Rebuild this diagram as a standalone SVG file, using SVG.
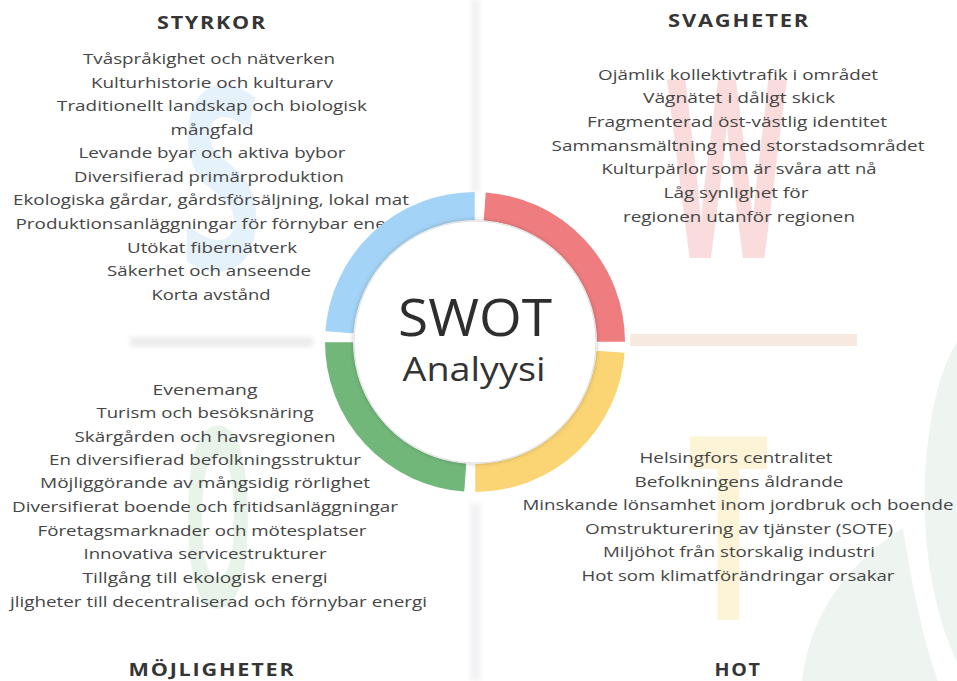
<svg xmlns="http://www.w3.org/2000/svg" width="957" height="681" viewBox="0 0 957 681">
<defs>
<style>
.h{font-family:"Open Sans","Liberation Sans",sans-serif;font-size:18px;font-weight:700;fill:#353535;text-anchor:middle;letter-spacing:1.5px}
.t{font-family:"Open Sans","Liberation Sans",sans-serif;font-size:15px;fill:#464646;text-anchor:middle}
.wm{font-family:"Open Sans","Liberation Sans",sans-serif;font-weight:700}
.arc{fill:none;stroke-width:28}
</style>
<filter id="blur2" x="-20%" y="-200%" width="140%" height="500%"><feGaussianBlur stdDeviation="2"/></filter>
<filter id="sh" x="-20%" y="-20%" width="140%" height="140%"><feDropShadow dx="0" dy="0" stdDeviation="2.5" flood-color="#000" flood-opacity="0.25"/></filter>
</defs>
<rect width="957" height="681" fill="#ffffff"/>
<g id="leaves" fill="#eef5f0">
<path d="M957,342 C920,400 908,560 957,662 Z"/>
<path d="M802,681 C810,612 850,562 903,528 C913,592 924,642 938,681 Z"/>
</g>
<g id="dividers">
<rect x="471" y="0" width="9" height="192" fill="#f2f2f2" filter="url(#blur2)"/>
<rect x="470" y="503" width="11" height="178" fill="#f3f3f5" filter="url(#blur2)"/>
<rect x="130" y="337" width="183" height="10" fill="#ededed" filter="url(#blur2)"/>
<rect x="630" y="334" width="227" height="12" fill="#f8e9e0"/>
</g>
<g id="watermarks">
<text class="wm" x="180" y="270" font-size="255" textLength="82" lengthAdjust="spacingAndGlyphs" fill="#e6f2fb">S</text>
<text class="wm" x="667" y="258" font-size="249" textLength="120" lengthAdjust="spacingAndGlyphs" fill="#fadcdc">W</text>
<text class="wm" x="183" y="607" font-size="250" textLength="70" lengthAdjust="spacingAndGlyphs" fill="#e8f4ea">O</text>
<text class="wm" x="687" y="620" font-size="256" textLength="83" lengthAdjust="spacingAndGlyphs" fill="#fdf3d6">T</text>
</g>
<g id="styrkor">
<text class="h" x="212" y="29" textLength="110" lengthAdjust="spacingAndGlyphs">STYRKOR</text>
<text class="t" x="209" y="64" textLength="252" lengthAdjust="spacingAndGlyphs">Tvåspråkighet och nätverken</text>
<text class="t" x="212" y="88" textLength="242" lengthAdjust="spacingAndGlyphs">Kulturhistorie och kulturarv</text>
<text class="t" x="212" y="111" textLength="310" lengthAdjust="spacingAndGlyphs">Traditionellt landskap och biologisk</text>
<text class="t" x="212" y="135" textLength="83" lengthAdjust="spacingAndGlyphs">mångfald</text>
<text class="t" x="212" y="158" textLength="267" lengthAdjust="spacingAndGlyphs">Levande byar och aktiva bybor</text>
<text class="t" x="209" y="182" textLength="270" lengthAdjust="spacingAndGlyphs">Diversifierad primärproduktion</text>
<text class="t" x="211" y="205" textLength="396" lengthAdjust="spacingAndGlyphs">Ekologiska gårdar, gårdsförsäljning, lokal mat</text>
<text class="t" x="212" y="229" textLength="393" lengthAdjust="spacingAndGlyphs">Produktionsanläggningar för förnybar energi</text>
<text class="t" x="212" y="253" textLength="170" lengthAdjust="spacingAndGlyphs">Utökat fibernätverk</text>
<text class="t" x="209" y="276" textLength="204" lengthAdjust="spacingAndGlyphs">Säkerhet och anseende</text>
<text class="t" x="211" y="300" textLength="119" lengthAdjust="spacingAndGlyphs">Korta avstånd</text>
</g>
<g id="svagheter">
<text class="h" x="739" y="27" textLength="142" lengthAdjust="spacingAndGlyphs">SVAGHETER</text>
<text class="t" x="738" y="80" textLength="280" lengthAdjust="spacingAndGlyphs">Ojämlik kollektivtrafik i området</text>
<text class="t" x="739" y="103" textLength="192" lengthAdjust="spacingAndGlyphs">Vägnätet i dåligt skick</text>
<text class="t" x="737" y="127" textLength="300" lengthAdjust="spacingAndGlyphs">Fragmenterad öst-västlig identitet</text>
<text class="t" x="738" y="151" textLength="373" lengthAdjust="spacingAndGlyphs">Sammansmältning med storstadsområdet</text>
<text class="t" x="739" y="174" textLength="275" lengthAdjust="spacingAndGlyphs">Kulturpärlor som är svåra att nå</text>
<text class="t" x="736" y="198" textLength="145" lengthAdjust="spacingAndGlyphs">Låg synlighet för</text>
<text class="t" x="739" y="222" textLength="232" lengthAdjust="spacingAndGlyphs">regionen utanför regionen</text>
</g>
<g id="mojligheter">
<text class="h" x="212" y="676" textLength="167" lengthAdjust="spacingAndGlyphs">MÖJLIGHETER</text>
<text class="t" x="205" y="395" textLength="105" lengthAdjust="spacingAndGlyphs">Evenemang</text>
<text class="t" x="205" y="418" textLength="217" lengthAdjust="spacingAndGlyphs">Turism och besöksnäring</text>
<text class="t" x="205" y="442" textLength="261" lengthAdjust="spacingAndGlyphs">Skärgården och havsregionen</text>
<text class="t" x="205" y="465" textLength="312" lengthAdjust="spacingAndGlyphs">En diversifierad befolkningsstruktur</text>
<text class="t" x="205" y="488" textLength="330" lengthAdjust="spacingAndGlyphs">Möjliggörande av mångsidig rörlighet</text>
<text class="t" x="205" y="512" textLength="386" lengthAdjust="spacingAndGlyphs">Diversifierat boende och fritidsanläggningar</text>
<text class="t" x="202" y="536" textLength="329" lengthAdjust="spacingAndGlyphs">Företagsmarknader och mötesplatser</text>
<text class="t" x="205" y="559" textLength="243" lengthAdjust="spacingAndGlyphs">Innovativa servicestrukturer</text>
<text class="t" x="205" y="583" textLength="245" lengthAdjust="spacingAndGlyphs">Tillgång till ekologisk energi</text>
<text class="t" x="10" y="607" textLength="417" lengthAdjust="spacingAndGlyphs" style="text-anchor:start">jligheter till decentraliserad och förnybar energi</text>
</g>
<g id="hot">
<text class="h" x="738" y="676" textLength="47" lengthAdjust="spacingAndGlyphs">HOT</text>
<text class="t" x="736" y="463" textLength="193" lengthAdjust="spacingAndGlyphs">Helsingfors centralitet</text>
<text class="t" x="739" y="487" textLength="209" lengthAdjust="spacingAndGlyphs">Befolkningens åldrande</text>
<text class="t" x="738" y="510" textLength="431" lengthAdjust="spacingAndGlyphs">Minskande lönsamhet inom jordbruk och boende</text>
<text class="t" x="739" y="534" textLength="308" lengthAdjust="spacingAndGlyphs">Omstrukturering av tjänster (SOTE)</text>
<text class="t" x="739" y="557" textLength="272" lengthAdjust="spacingAndGlyphs">Miljöhot från storskalig industri</text>
<text class="t" x="738" y="581" textLength="313" lengthAdjust="spacingAndGlyphs">Hot som klimatförändringar orsakar</text>
</g>
<g id="swot-center">
<g transform="rotate(2 475 342)">
<path class="arc" stroke="#a3d3f6" d="M339.1,337.0 A136,136 0 0 1 470.0,206.1"/>
<path class="arc" stroke="#ef7d80" d="M480.0,206.1 A136,136 0 0 1 610.9,337.0"/>
<path class="arc" stroke="#fbd573" d="M610.9,347.0 A136,136 0 0 1 480.0,477.9"/>
<path class="arc" stroke="#72b77a" d="M470.0,477.9 A136,136 0 0 1 339.1,347.0"/>
</g>
<circle cx="475" cy="342" r="121" fill="#ffffff" stroke="#e0e0e0" stroke-width="1" filter="url(#sh)"/>
<text x="475" y="336" font-family="Open Sans, Liberation Sans, sans-serif" font-size="52" fill="#2e2e2e" text-anchor="middle" textLength="154" lengthAdjust="spacingAndGlyphs">SWOT</text>
<text x="474" y="381" font-family="Open Sans, Liberation Sans, sans-serif" font-size="32" fill="#333333" text-anchor="middle" textLength="143" lengthAdjust="spacingAndGlyphs">Analyysi</text>
</g>
</svg>
